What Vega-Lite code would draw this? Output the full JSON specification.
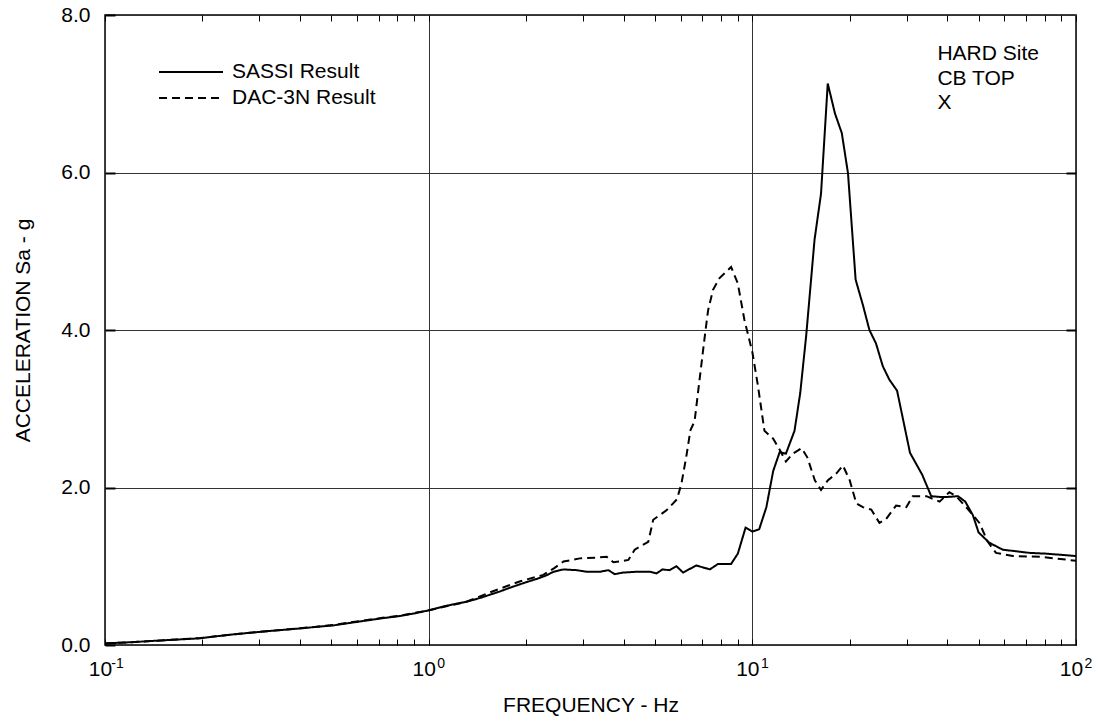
{
  "$schema": "https://vega.github.io/schema/vega-lite/v6.json",
  "width": 971,
  "height": 630,
  "autosize": {"type": "none"},
  "padding": {"left": 105, "top": 15, "right": 23, "bottom": 78},
  "background": "white",
  "config": {
    "font": "Liberation Sans",
    "view": {"stroke": "black", "strokeWidth": 1.5},
    "axis": {"domain": false, "labelColor": "black", "titleColor": "black", "titleFontWeight": "normal", "labelFont": "Liberation Sans", "titleFont": "Liberation Sans"}
  },
  "datasets": {
    "curves": [
      {"series": "SASSI Result", "freq": 0.1, "sa": 0.02},
      {"series": "SASSI Result", "freq": 0.12, "sa": 0.035},
      {"series": "SASSI Result", "freq": 0.138, "sa": 0.05},
      {"series": "SASSI Result", "freq": 0.16, "sa": 0.065},
      {"series": "SASSI Result", "freq": 0.197, "sa": 0.085},
      {"series": "SASSI Result", "freq": 0.22, "sa": 0.11},
      {"series": "SASSI Result", "freq": 0.249, "sa": 0.135},
      {"series": "SASSI Result", "freq": 0.28, "sa": 0.155},
      {"series": "SASSI Result", "freq": 0.316, "sa": 0.175},
      {"series": "SASSI Result", "freq": 0.35, "sa": 0.19},
      {"series": "SASSI Result", "freq": 0.4, "sa": 0.21},
      {"series": "SASSI Result", "freq": 0.45, "sa": 0.23},
      {"series": "SASSI Result", "freq": 0.51, "sa": 0.25},
      {"series": "SASSI Result", "freq": 0.57, "sa": 0.28},
      {"series": "SASSI Result", "freq": 0.64, "sa": 0.31},
      {"series": "SASSI Result", "freq": 0.72, "sa": 0.34},
      {"series": "SASSI Result", "freq": 0.82, "sa": 0.37},
      {"series": "SASSI Result", "freq": 0.9, "sa": 0.4},
      {"series": "SASSI Result", "freq": 1.0, "sa": 0.44},
      {"series": "SASSI Result", "freq": 1.14, "sa": 0.5},
      {"series": "SASSI Result", "freq": 1.31, "sa": 0.55},
      {"series": "SASSI Result", "freq": 1.45, "sa": 0.6},
      {"series": "SASSI Result", "freq": 1.55, "sa": 0.64},
      {"series": "SASSI Result", "freq": 1.66, "sa": 0.68},
      {"series": "SASSI Result", "freq": 1.79, "sa": 0.73},
      {"series": "SASSI Result", "freq": 2.01, "sa": 0.8},
      {"series": "SASSI Result", "freq": 2.16, "sa": 0.84},
      {"series": "SASSI Result", "freq": 2.3, "sa": 0.88},
      {"series": "SASSI Result", "freq": 2.43, "sa": 0.93},
      {"series": "SASSI Result", "freq": 2.61, "sa": 0.96},
      {"series": "SASSI Result", "freq": 2.87, "sa": 0.95},
      {"series": "SASSI Result", "freq": 3.08, "sa": 0.93},
      {"series": "SASSI Result", "freq": 3.38, "sa": 0.93},
      {"series": "SASSI Result", "freq": 3.59, "sa": 0.95},
      {"series": "SASSI Result", "freq": 3.76, "sa": 0.9},
      {"series": "SASSI Result", "freq": 3.99, "sa": 0.92},
      {"series": "SASSI Result", "freq": 4.38, "sa": 0.93},
      {"series": "SASSI Result", "freq": 4.82, "sa": 0.93},
      {"series": "SASSI Result", "freq": 5.06, "sa": 0.91},
      {"series": "SASSI Result", "freq": 5.28, "sa": 0.96},
      {"series": "SASSI Result", "freq": 5.54, "sa": 0.95},
      {"series": "SASSI Result", "freq": 5.83, "sa": 1.0},
      {"series": "SASSI Result", "freq": 6.11, "sa": 0.92},
      {"series": "SASSI Result", "freq": 6.71, "sa": 1.01},
      {"series": "SASSI Result", "freq": 7.39, "sa": 0.96},
      {"series": "SASSI Result", "freq": 7.84, "sa": 1.03},
      {"series": "SASSI Result", "freq": 8.6, "sa": 1.03},
      {"series": "SASSI Result", "freq": 9.02, "sa": 1.16},
      {"series": "SASSI Result", "freq": 9.53, "sa": 1.49},
      {"series": "SASSI Result", "freq": 10.0, "sa": 1.44},
      {"series": "SASSI Result", "freq": 10.5, "sa": 1.47},
      {"series": "SASSI Result", "freq": 11.05, "sa": 1.75},
      {"series": "SASSI Result", "freq": 11.6, "sa": 2.21},
      {"series": "SASSI Result", "freq": 12.15, "sa": 2.45},
      {"series": "SASSI Result", "freq": 12.7, "sa": 2.43},
      {"series": "SASSI Result", "freq": 13.5, "sa": 2.72},
      {"series": "SASSI Result", "freq": 14.06, "sa": 3.2},
      {"series": "SASSI Result", "freq": 14.67, "sa": 3.93},
      {"series": "SASSI Result", "freq": 15.57, "sa": 5.15},
      {"series": "SASSI Result", "freq": 16.3, "sa": 5.73},
      {"series": "SASSI Result", "freq": 17.1, "sa": 7.13},
      {"series": "SASSI Result", "freq": 18.0, "sa": 6.75},
      {"series": "SASSI Result", "freq": 18.9, "sa": 6.5},
      {"series": "SASSI Result", "freq": 19.75, "sa": 5.99},
      {"series": "SASSI Result", "freq": 20.85, "sa": 4.64},
      {"series": "SASSI Result", "freq": 21.95, "sa": 4.32},
      {"series": "SASSI Result", "freq": 23.0, "sa": 4.0},
      {"series": "SASSI Result", "freq": 24.1, "sa": 3.83},
      {"series": "SASSI Result", "freq": 25.3, "sa": 3.54},
      {"series": "SASSI Result", "freq": 26.5, "sa": 3.37},
      {"series": "SASSI Result", "freq": 28.0, "sa": 3.23},
      {"series": "SASSI Result", "freq": 30.7, "sa": 2.44},
      {"series": "SASSI Result", "freq": 33.5, "sa": 2.16},
      {"series": "SASSI Result", "freq": 35.7, "sa": 1.89},
      {"series": "SASSI Result", "freq": 37.9, "sa": 1.88},
      {"series": "SASSI Result", "freq": 40.1, "sa": 1.88},
      {"series": "SASSI Result", "freq": 43.2, "sa": 1.89},
      {"series": "SASSI Result", "freq": 45.5, "sa": 1.82},
      {"series": "SASSI Result", "freq": 48.0, "sa": 1.65},
      {"series": "SASSI Result", "freq": 50.0, "sa": 1.43},
      {"series": "SASSI Result", "freq": 53.9, "sa": 1.3},
      {"series": "SASSI Result", "freq": 59.4, "sa": 1.21},
      {"series": "SASSI Result", "freq": 65.4, "sa": 1.19},
      {"series": "SASSI Result", "freq": 71.8, "sa": 1.17},
      {"series": "SASSI Result", "freq": 80.9, "sa": 1.16},
      {"series": "SASSI Result", "freq": 100, "sa": 1.13},
      {"series": "DAC-3N Result", "freq": 0.1, "sa": 0.02},
      {"series": "DAC-3N Result", "freq": 0.12, "sa": 0.035},
      {"series": "DAC-3N Result", "freq": 0.138, "sa": 0.05},
      {"series": "DAC-3N Result", "freq": 0.16, "sa": 0.066},
      {"series": "DAC-3N Result", "freq": 0.197, "sa": 0.088},
      {"series": "DAC-3N Result", "freq": 0.22, "sa": 0.11},
      {"series": "DAC-3N Result", "freq": 0.249, "sa": 0.135},
      {"series": "DAC-3N Result", "freq": 0.28, "sa": 0.155},
      {"series": "DAC-3N Result", "freq": 0.316, "sa": 0.176},
      {"series": "DAC-3N Result", "freq": 0.35, "sa": 0.19},
      {"series": "DAC-3N Result", "freq": 0.4, "sa": 0.212},
      {"series": "DAC-3N Result", "freq": 0.45, "sa": 0.232},
      {"series": "DAC-3N Result", "freq": 0.51, "sa": 0.255},
      {"series": "DAC-3N Result", "freq": 0.57, "sa": 0.285},
      {"series": "DAC-3N Result", "freq": 0.64, "sa": 0.315},
      {"series": "DAC-3N Result", "freq": 0.72, "sa": 0.345},
      {"series": "DAC-3N Result", "freq": 0.82, "sa": 0.375},
      {"series": "DAC-3N Result", "freq": 0.9, "sa": 0.405},
      {"series": "DAC-3N Result", "freq": 1.0, "sa": 0.44},
      {"series": "DAC-3N Result", "freq": 1.31, "sa": 0.55},
      {"series": "DAC-3N Result", "freq": 1.55, "sa": 0.67},
      {"series": "DAC-3N Result", "freq": 1.92, "sa": 0.81},
      {"series": "DAC-3N Result", "freq": 2.26, "sa": 0.89},
      {"series": "DAC-3N Result", "freq": 2.45, "sa": 0.98},
      {"series": "DAC-3N Result", "freq": 2.61, "sa": 1.06},
      {"series": "DAC-3N Result", "freq": 2.93, "sa": 1.1},
      {"series": "DAC-3N Result", "freq": 3.3, "sa": 1.11},
      {"series": "DAC-3N Result", "freq": 3.55, "sa": 1.12},
      {"series": "DAC-3N Result", "freq": 3.72, "sa": 1.05},
      {"series": "DAC-3N Result", "freq": 4.14, "sa": 1.08},
      {"series": "DAC-3N Result", "freq": 4.33, "sa": 1.21},
      {"series": "DAC-3N Result", "freq": 4.77, "sa": 1.31},
      {"series": "DAC-3N Result", "freq": 4.94, "sa": 1.59},
      {"series": "DAC-3N Result", "freq": 5.43, "sa": 1.71},
      {"series": "DAC-3N Result", "freq": 5.85, "sa": 1.85},
      {"series": "DAC-3N Result", "freq": 6.04, "sa": 2.05},
      {"series": "DAC-3N Result", "freq": 6.25, "sa": 2.39},
      {"series": "DAC-3N Result", "freq": 6.44, "sa": 2.73},
      {"series": "DAC-3N Result", "freq": 6.63, "sa": 2.84},
      {"series": "DAC-3N Result", "freq": 6.87, "sa": 3.37},
      {"series": "DAC-3N Result", "freq": 7.13, "sa": 3.92},
      {"series": "DAC-3N Result", "freq": 7.3, "sa": 4.25},
      {"series": "DAC-3N Result", "freq": 7.56, "sa": 4.51},
      {"series": "DAC-3N Result", "freq": 7.92, "sa": 4.66},
      {"series": "DAC-3N Result", "freq": 8.6, "sa": 4.8},
      {"series": "DAC-3N Result", "freq": 9.02, "sa": 4.59},
      {"series": "DAC-3N Result", "freq": 9.45, "sa": 4.13},
      {"series": "DAC-3N Result", "freq": 10.0, "sa": 3.72},
      {"series": "DAC-3N Result", "freq": 10.4, "sa": 3.3},
      {"series": "DAC-3N Result", "freq": 10.9, "sa": 2.72},
      {"series": "DAC-3N Result", "freq": 11.6, "sa": 2.62},
      {"series": "DAC-3N Result", "freq": 12.15, "sa": 2.48},
      {"series": "DAC-3N Result", "freq": 12.7, "sa": 2.33},
      {"series": "DAC-3N Result", "freq": 13.35, "sa": 2.43},
      {"series": "DAC-3N Result", "freq": 14.2, "sa": 2.5},
      {"series": "DAC-3N Result", "freq": 14.8, "sa": 2.38},
      {"series": "DAC-3N Result", "freq": 15.6, "sa": 2.09},
      {"series": "DAC-3N Result", "freq": 16.3, "sa": 1.97},
      {"series": "DAC-3N Result", "freq": 17.1, "sa": 2.09},
      {"series": "DAC-3N Result", "freq": 18.2, "sa": 2.18},
      {"series": "DAC-3N Result", "freq": 19.05, "sa": 2.28},
      {"series": "DAC-3N Result", "freq": 20.0, "sa": 2.09},
      {"series": "DAC-3N Result", "freq": 20.95, "sa": 1.8},
      {"series": "DAC-3N Result", "freq": 21.95, "sa": 1.75},
      {"series": "DAC-3N Result", "freq": 23.3, "sa": 1.72},
      {"series": "DAC-3N Result", "freq": 24.7, "sa": 1.55},
      {"series": "DAC-3N Result", "freq": 25.9, "sa": 1.6},
      {"series": "DAC-3N Result", "freq": 27.8, "sa": 1.77},
      {"series": "DAC-3N Result", "freq": 29.9, "sa": 1.75},
      {"series": "DAC-3N Result", "freq": 31.3, "sa": 1.89},
      {"series": "DAC-3N Result", "freq": 34.5, "sa": 1.89},
      {"series": "DAC-3N Result", "freq": 37.9, "sa": 1.82},
      {"series": "DAC-3N Result", "freq": 40.6, "sa": 1.94},
      {"series": "DAC-3N Result", "freq": 42.6, "sa": 1.89},
      {"series": "DAC-3N Result", "freq": 45.8, "sa": 1.75},
      {"series": "DAC-3N Result", "freq": 50.3, "sa": 1.55},
      {"series": "DAC-3N Result", "freq": 53.4, "sa": 1.31},
      {"series": "DAC-3N Result", "freq": 56.6, "sa": 1.17},
      {"series": "DAC-3N Result", "freq": 63.8, "sa": 1.13},
      {"series": "DAC-3N Result", "freq": 77.2, "sa": 1.12},
      {"series": "DAC-3N Result", "freq": 100, "sa": 1.07}
    ],
    "notes": [
      {"label": "HARD Site", "freq": 37.3, "sa": 7.51},
      {"label": "CB TOP", "freq": 37.3, "sa": 7.19},
      {"label": "X", "freq": 37.3, "sa": 6.88}
    ]
  },
  "resolve": {"axis": {"x": "independent", "y": "independent"}},
  "layer": [
    {
      "data": {"name": "curves"},
      "transform": [{"filter": "datum.series == 'SASSI Result'"}],
      "mark": {"type": "line", "color": "black", "strokeWidth": 2, "clip": true},
      "encoding": {
        "x": {
          "field": "freq", "type": "quantitative",
          "scale": {"type": "log", "domain": [0.1, 100], "nice": false},
          "axis": {
            "orient": "bottom", "values": [0.1, 1, 10, 100], "labelExpr": "'10'",
            "labelFontSize": 21, "labelPadding": 13, "labelOffset": -5, "labelFlush": false,
            "ticks": false, "grid": true, "gridColor": "#333333", "gridWidth": 1,
            "title": "FREQUENCY - Hz", "titleFontSize": 21, "titleY": 60, "titleBaseline": "middle"
          }
        },
        "y": {
          "field": "sa", "type": "quantitative",
          "scale": {"domain": [0, 8], "nice": false, "zero": false},
          "axis": {
            "orient": "left", "values": [0, 2, 4, 6, 8], "format": ".1f",
            "labelFontSize": 21, "labelPadding": 25, "tickSize": -10, "tickWidth": 2, "tickColor": "black",
            "grid": true, "gridColor": "#333333", "gridWidth": 1,
            "title": "ACCELERATION Sa - g", "titleFontSize": 21, "titleX": -82, "titleY": 315,
            "titleAngle": -90, "titleBaseline": "middle", "titleAlign": "center"
          }
        },
        "strokeDash": {
          "field": "series", "type": "nominal",
          "scale": {"domain": ["SASSI Result", "DAC-3N Result"], "range": [[1, 0], [8, 5]]},
          "legend": {
            "orient": "none", "legendX": 53, "legendY": 47, "title": null,
            "symbolType": "stroke", "symbolSize": 4096, "symbolStrokeWidth": 2, "symbolStrokeColor": "black",
            "clipHeight": 20, "rowPadding": 5,
            "labelFontSize": 21, "labelColor": "black", "labelOffset": 8
          }
        }
      }
    },
    {
      "data": {"name": "curves"},
      "transform": [{"filter": "datum.series == 'DAC-3N Result'"}],
      "mark": {"type": "line", "color": "black", "strokeWidth": 2, "clip": true},
      "encoding": {
        "x": {
          "field": "freq", "type": "quantitative",
          "axis": {
            "orient": "bottom",
            "values": [0.1, 0.2, 0.3, 0.4, 0.5, 0.6, 0.7, 0.8, 0.9, 1, 2, 3, 4, 5, 6, 7, 8, 9, 10, 20, 30, 40, 50, 60, 70, 80, 90, 100],
            "labelExpr": "datum.value == 0.1 ? '-1' : datum.value == 1 ? '0' : datum.value == 10 ? '1' : datum.value == 100 ? '2' : ''",
            "labelFontSize": 14, "labelOffset": 12, "labelPadding": 17, "labelFlush": false, "labelOverlap": false,
            "tickSize": -6, "tickColor": "black", "tickWidth": 1, "grid": false, "title": null
          }
        },
        "y": {
          "field": "sa", "type": "quantitative",
          "axis": {
            "orient": "right", "values": [2, 4, 6], "labels": false,
            "tickSize": -10, "tickWidth": 2, "tickColor": "black", "grid": false, "title": null
          }
        },
        "strokeDash": {"field": "series", "type": "nominal"}
      }
    },
    {
      "data": {"name": "notes"},
      "mark": {"type": "text", "align": "left", "baseline": "middle", "fontSize": 21, "color": "black", "font": "Liberation Sans"},
      "encoding": {
        "x": {
          "field": "freq", "type": "quantitative",
          "axis": {
            "orient": "top",
            "values": [0.1, 0.2, 0.3, 0.4, 0.5, 0.6, 0.7, 0.8, 0.9, 1, 2, 3, 4, 5, 6, 7, 8, 9, 10, 20, 30, 40, 50, 60, 70, 80, 90, 100],
            "labels": false, "tickSize": -6, "tickColor": "black", "tickWidth": 1, "grid": false, "title": null
          }
        },
        "y": {"field": "sa", "type": "quantitative", "axis": null},
        "text": {"field": "label"}
      }
    }
  ]
}
